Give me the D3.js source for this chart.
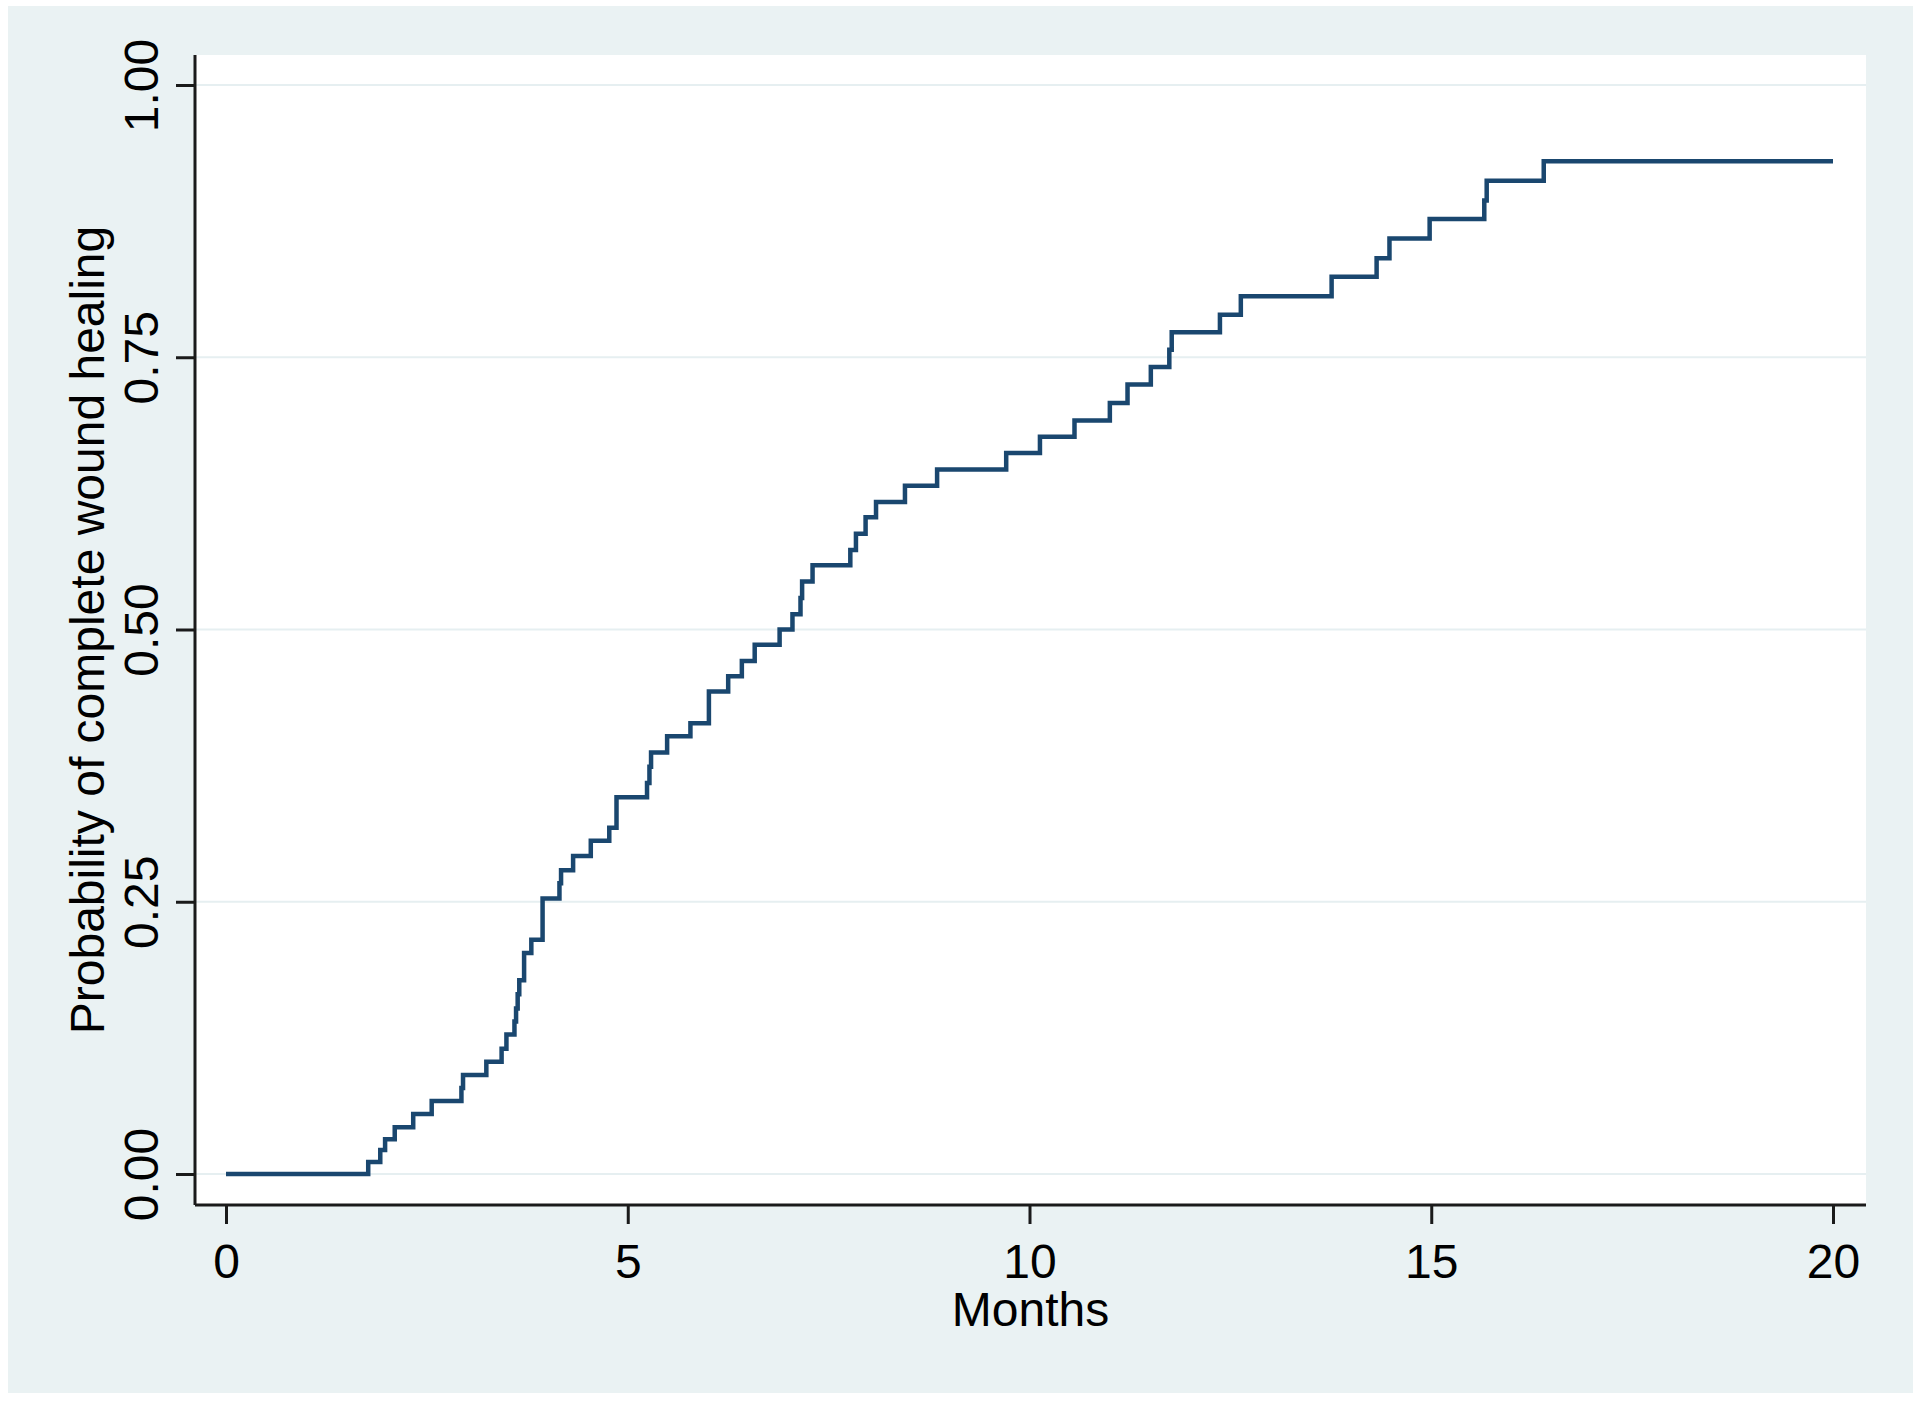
<!DOCTYPE html>
<html>
<head>
<meta charset="utf-8">
<script src="https://cdn.jsdelivr.net/npm/d3@7"></script>
<style>
  html, body { margin: 0; padding: 0; background: #ffffff; }
  svg { display: block; }
  text { font-family: "Liberation Sans", Arial, sans-serif; fill: #000; }
</style>
</head>
<body>
<div id="chart"></div>
<script>
// Kaplan-Meier style step data: month of event and cumulative probability after it
var months = [0, 1.77, 1.92, 1.98, 2.10, 2.33, 2.56, 2.93, 2.95, 3.24, 3.43, 3.49,
  3.59, 3.61, 3.63, 3.65, 3.71, 3.80, 3.94, 4.15, 4.17, 4.32, 4.54, 4.77, 4.86,
  5.24, 5.27, 5.29, 5.49, 5.78, 6.01, 6.25, 6.42, 6.58, 6.89, 7.05, 7.15, 7.17,
  7.30, 7.77, 7.84, 7.96, 8.09, 8.45, 8.85, 9.71, 10.13, 10.56, 11.00, 11.22,
  11.51, 11.74, 11.77, 12.37, 12.63, 13.76, 14.32, 14.48, 14.98, 15.66, 15.69,
  16.40, 20];
var healed = [0, 0.011, 0.022, 0.032, 0.043, 0.055, 0.067, 0.079, 0.091, 0.103,
  0.115, 0.128, 0.140, 0.152, 0.165, 0.178, 0.203, 0.215, 0.253, 0.267, 0.279,
  0.292, 0.306, 0.318, 0.346, 0.359, 0.374, 0.387, 0.402, 0.414, 0.443, 0.457,
  0.471, 0.486, 0.500, 0.514, 0.529, 0.544, 0.559, 0.573, 0.588, 0.603, 0.617,
  0.632, 0.647, 0.662, 0.677, 0.692, 0.708, 0.725, 0.741, 0.757, 0.773, 0.789,
  0.806, 0.824, 0.841, 0.859, 0.877, 0.894, 0.912, 0.930, 0.930];
var xTicks = [0, 5, 10, 15, 20];
var yTicks = [0, 0.25, 0.5, 0.75, 1];

var width = 1920, height = 1401;

var svg = d3.select('#chart')
    .append('svg')
    .attr('width', width)
    .attr('height', height);

// graph region
svg.append('rect')
    .attr('x', 8).attr('y', 6)
    .attr('width', 1905).attr('height', 1387)
    .style('fill', '#eaf2f3');

// plot region
var plotL = 195, plotR = 1866, plotT = 55, plotB = 1205;
svg.append('rect')
    .attr('x', plotL).attr('y', plotT)
    .attr('width', plotR - plotL).attr('height', plotB - plotT)
    .style('fill', '#ffffff');

var x = d3.scaleLinear().domain([0, 20]).range([226, 1833]);
var y = d3.scaleLinear().domain([0, 1]).range([1174, 85]);

// gridlines
svg.append('g').selectAll('line')
    .data(yTicks)
    .enter().append('line')
    .attr('x1', plotL).attr('x2', plotR)
    .attr('y1', function(d) { return y(d); })
    .attr('y2', function(d) { return y(d); })
    .style('stroke', '#e6eff1')
    .style('stroke-width', 2);

// x axis
var xAxis = svg.append('g')
    .attr('transform', 'translate(0,' + plotB + ')')
    .call(d3.axisBottom(x).tickValues(xTicks).tickSize(19).tickPadding(20)
        .tickFormat(d3.format('d')));
xAxis.select('.domain')
    .attr('d', 'M' + plotL + ',0H' + plotR)
    .style('stroke', '#1a1a1a').style('stroke-width', 3);
xAxis.selectAll('.tick line').style('stroke', '#1a1a1a').style('stroke-width', 3);
xAxis.selectAll('.tick text')
    .style('font-size', '48px')
    .style('font-family', '"Liberation Sans", Arial, sans-serif')
    .attr('fill', '#000');

// y axis
var yAxis = svg.append('g')
    .attr('transform', 'translate(' + plotL + ',0)')
    .call(d3.axisLeft(y).tickValues(yTicks).tickSize(19).tickFormat(d3.format('.2f')));
yAxis.select('.domain')
    .attr('d', 'M0,' + plotT + 'V' + plotB)
    .style('stroke', '#1a1a1a').style('stroke-width', 3);
yAxis.selectAll('.tick line').style('stroke', '#1a1a1a').style('stroke-width', 3);
yAxis.selectAll('.tick text')
    .attr('x', null).attr('dy', null)
    .attr('transform', 'translate(-37,0) rotate(-90)')
    .attr('text-anchor', 'middle')
    .style('font-size', '48px')
    .style('font-family', '"Liberation Sans", Arial, sans-serif')
    .attr('fill', '#000');

// axis titles
svg.append('text')
    .attr('x', (plotL + plotR) / 2)
    .attr('y', 1326)
    .attr('text-anchor', 'middle')
    .style('font-size', '48px')
    .text('Months');

svg.append('text')
    .attr('transform', 'translate(104,' + ((plotT + plotB) / 2) + ') rotate(-90)')
    .attr('text-anchor', 'middle')
    .style('font-size', '48px')
    .text('Probability of complete wound healing');

// step curve
var pts = months.map(function(m, i) { return [m, healed[i]]; });
var line = d3.line()
    .x(function(d) { return x(d[0]); })
    .y(function(d) { return y(d[1]); })
    .curve(d3.curveStepAfter);

svg.append('path')
    .datum(pts)
    .attr('d', line)
    .style('fill', 'none')
    .style('stroke', '#1a476f')
    .style('stroke-width', 4.5);
</script>
</body>
</html>
